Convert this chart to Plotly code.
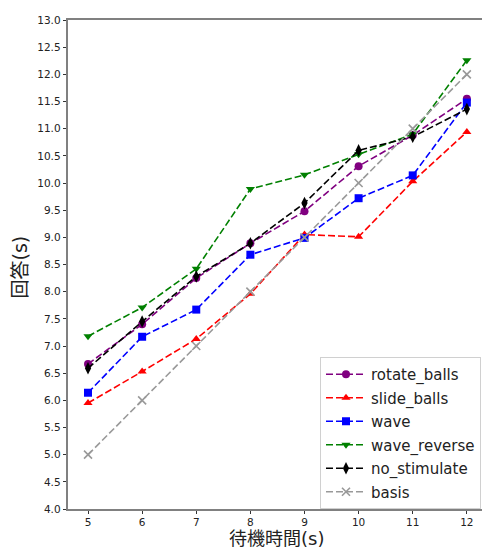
import plotly.graph_objects as go

wait_time = [5, 6, 7, 8, 9, 10, 11, 12]
rotate_balls = [6.67, 7.40, 8.25, 8.89, 9.48, 10.31, 10.88, 11.55]
slide_balls = [5.95, 6.53, 7.13, 7.96, 9.05, 9.01, 10.03, 10.94]
wave = [6.14, 7.17, 7.67, 8.68, 8.99, 9.72, 10.14, 11.48]
wave_reverse = [7.18, 7.71, 8.42, 9.89, 10.15, 10.53, 10.90, 12.26]
no_stimulate = [6.59, 7.45, 8.28, 8.89, 9.63, 10.60, 10.85, 11.36]
basis = [5, 6, 7, 8, 9, 10, 11, 12]

x_label = "待機時間(s)"
y_label = "回答(s)"

series = [
    ("rotate_balls", rotate_balls, "#800080", "circle", 8),
    ("slide_balls", slide_balls, "#ff0000", "triangle-up", 8),
    ("wave", wave, "#0000ff", "square", 8),
    ("wave_reverse", wave_reverse, "#008000", "triangle-down", 8),
    ("no_stimulate", no_stimulate, "#000000", "diamond-tall", 9),
    ("basis", basis, "#999999", "x-thin", 8),
]

y_ticks = [4.0 + 0.5 * i for i in range(19)]
x_ticks = wait_time

fig = go.Figure()
for i, (name, vals, color, sym, sz) in enumerate(series):
    marker = dict(symbol=sym, size=sz, color=color)
    if sym == "x-thin":
        marker["line"] = dict(color=color, width=1.6)
    fig.add_trace(go.Scatter(
        x=wait_time, y=vals, name=name, mode="lines+markers",
        line=dict(color=color, width=1.6, dash="7px,3px"),
        marker=marker, legendgroup=f"g{i}",
    ))

x_label_font = dict(size=18, family="DejaVu Sans, Noto Sans CJK JP", color="#222222")
y_label_font = dict(size=19, family="DejaVu Sans, Noto Sans CJK JP", color="#222222")

fig.update_layout(
    width=482, height=549,
    margin=dict(l=68, r=0, t=20, b=40),
    paper_bgcolor="white", plot_bgcolor="white",
    font=dict(family="DejaVu Sans", color="#222222"),
    showlegend=True,
    legend=dict(
        x=(320 - 68) / 414, y=0, xanchor="left", yanchor="bottom",
        bgcolor="white", bordercolor="#d0d0d0", borderwidth=1,
        font=dict(size=15, family="DejaVu Sans", color="#222222"),
        itemwidth=40, tracegroupgap=1,
    ),
    xaxis=dict(
        range=[4.63, 12.28], tickvals=x_ticks, ticktext=[str(v) for v in x_ticks],
        showgrid=False, zeroline=False, showline=True, mirror=True,
        linecolor="#808080", linewidth=1.6,
        ticks="outside", ticklen=3, tickwidth=1, tickcolor="#333333",
        tickfont=dict(size=10.5, family="DejaVu Sans", color="#222222"),
        automargin=False,
    ),
    yaxis=dict(
        range=[4, 13], tickvals=y_ticks, ticktext=[f"{v:.1f}" for v in y_ticks],
        showgrid=False, zeroline=False, showline=True, mirror=False,
        linecolor="#808080", linewidth=1.6,
        ticks="outside", ticklen=3.5, tickwidth=1, tickcolor="#333333",
        tickfont=dict(size=10.5, family="DejaVu Sans", color="#222222"),
        automargin=False,
    ),
    annotations=[
        dict(text=x_label, xref="paper", yref="paper",
             x=(276 - 68) / 414, y=(509 - 549) / 488,
             xanchor="center", yanchor="bottom", showarrow=False,
             font=x_label_font, borderpad=0, borderwidth=0),
        dict(text=y_label, xref="paper", yref="paper",
             x=(20 - 68) / 414, y=(509 - 268) / 488, textangle=-90,
             xanchor="center", yanchor="middle", showarrow=False,
             font=y_label_font, borderpad=0, borderwidth=0),
    ],
)

fig.write_html("out.html")
